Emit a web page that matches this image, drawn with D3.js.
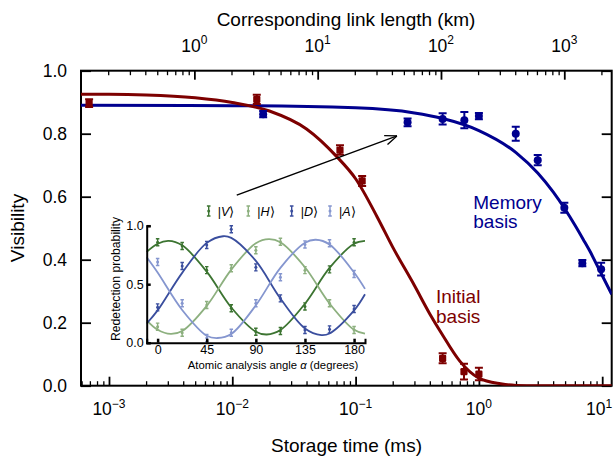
<!DOCTYPE html>
<html>
<head>
<meta charset="utf-8">
<script src="https://cdn.jsdelivr.net/npm/d3@7"></script>
<style>
  body { margin: 0; background: #fff; }
  svg { display: block; font-family: Helvetica, "Liberation Sans", Arial, sans-serif; }
</style>
</head>
<body>
<div id="chart"></div>
<script>
// storage time (ms) vs visibility
const initialTimes = [0.00069, 0.0158, 0.0747, 0.113, 0.508, 0.757, 1.0];
const initialVis   = [0.897, 0.909, 0.748, 0.650, 0.087, 0.045, 0.037];
const initialErr   = [0.012, 0.015, 0.015, 0.016, 0.016, 0.025, 0.02];

const memoryTimes = [0.0178, 0.264, 0.508, 0.762, 1.0, 1.99, 3.0, 4.93, 6.9, 9.8];
const memoryVis   = [0.862, 0.836, 0.847, 0.843, 0.856, 0.80, 0.716, 0.565, 0.389, 0.370];
const memoryErr   = [0.01, 0.012, 0.018, 0.026, 0.01, 0.022, 0.016, 0.016, 0.01, 0.02];

// fit curves
const initialFitT = [0.00059, 0.001, 0.002, 0.005, 0.01, 0.02, 0.04, 0.07, 0.1, 0.15, 0.2, 0.3, 0.4, 0.5, 0.7, 1.0, 1.5, 2, 3, 12];
const initialFitV = [0.925, 0.925, 0.923, 0.914, 0.899, 0.872, 0.815, 0.728, 0.657, 0.535, 0.44, 0.318, 0.228, 0.165, 0.078, 0.024, 0.006, 0.001, 0, 0];
const memoryFitT = [0.00059, 0.01, 0.1, 0.3, 0.5, 1, 2, 3, 4, 5, 6, 7, 8, 9, 10, 11.94];
const memoryFitV = [0.89, 0.889, 0.882, 0.866, 0.849, 0.81, 0.74, 0.675, 0.615, 0.56, 0.51, 0.465, 0.425, 0.385, 0.35, 0.29];

const timeMajor = [1e-3, 1e-2, 1e-1, 1, 10];
const kmMajor = [1, 10, 100, 1000];
const visTicks = [0, 0.2, 0.4, 0.6, 0.8, 1.0];
const kmPerMs = 203; // link length per ms of storage

// inset: redetection probability vs analysis angle
const angles = [0, 22.5, 45, 67.5, 90, 112.5, 135, 157.5, 180];
const probV = [0.858, 0.826, 0.62, 0.294, 0.094, 0.10, 0.31, 0.627, 0.858];
const probH = [0.137, 0.085, 0.322, 0.636, 0.79, 0.863, 0.62, 0.337, 0.108];
const probD = [0.302, 0.656, 0.835, 0.97, 0.644, 0.379, 0.108, 0.114, 0.288];
const probA = [0.69, 0.337, 0.04, 0.085, 0.337, 0.559, 0.84, 0.85, 0.587];
const probErr = 0.03;

const fitVAng = [-10, 0, 10, 22.5, 45, 67.5, 90, 100, 112.5, 135, 157.5, 180, 190];
const fitV    = [0.776, 0.846, 0.87, 0.832, 0.607, 0.301, 0.094, 0.07, 0.108, 0.333, 0.639, 0.846, 0.87];
const fitHAng = [-10, 0, 12, 22.5, 45, 67.5, 90, 102, 112.5, 135, 157.5, 180, 190];
const fitH    = [0.19, 0.11, 0.075, 0.10, 0.315, 0.625, 0.85, 0.885, 0.858, 0.645, 0.335, 0.11, 0.077];
const fitDAng = [-10, 0, 22.5, 45, 60, 67.5, 90, 112.5, 135, 150, 157.5, 180, 190];
const fitD    = [0.164, 0.276, 0.597, 0.853, 0.91, 0.896, 0.699, 0.378, 0.122, 0.065, 0.079, 0.276, 0.414];
const fitAAng = [-10, 0, 22.5, 45, 55, 67.5, 90, 112.5, 135, 145, 157.5, 180, 190];
const fitA    = [0.73, 0.60, 0.28, 0.06, 0.04, 0.075, 0.32, 0.64, 0.855, 0.88, 0.84, 0.60, 0.46];

const red = '#7d0000';
const blue = '#00008f';

const width = 613, height = 462;
const svg = d3.select('#chart').append('svg')
  .attr('width', width).attr('height', height)
  .attr('viewBox', [0, 0, width, height]);

const x = d3.scaleLog().domain([5.93e-4, 11.94]).range([81, 611.7]);
const y = d3.scaleLinear().domain([0, 1]).range([385.7, 70.7]);
const xKm = d3.scaleLog().domain(x.domain().map(d => d * kmPerMs)).range(x.range());

const isPow10 = d => Math.abs(Math.log10(d) - Math.round(Math.log10(d))) < 1e-6;
const timeMinor = x.ticks().filter(d => !isPow10(d));
const kmMinor = xKm.ticks().filter(d => !isPow10(d));

svg.append('defs').append('clipPath').attr('id', 'plot')
  .append('rect').attr('x', 81).attr('y', 70.7).attr('width', 530.7).attr('height', 315);

// ticks (all inward)
function ticks(g, axis, sw) {
  g.call(axis);
  g.select('.domain').remove();
  g.selectAll('.tick line').attr('stroke', '#000').attr('stroke-width', sw);
  g.selectAll('.tick text').remove();
}
svg.append('g').attr('transform', `translate(0,${y(0)})`)
  .call(g => ticks(g, d3.axisBottom(x).tickValues(timeMinor).tickSize(-4.5), 1.3));
svg.append('g').attr('transform', `translate(0,${y(0)})`)
  .call(g => ticks(g, d3.axisBottom(x).tickValues(timeMajor).tickSize(-9), 1.8));
svg.append('g').attr('transform', `translate(0,${y(1)})`)
  .call(g => ticks(g, d3.axisTop(xKm).tickValues(kmMinor).tickSize(-4.5), 1.3));
svg.append('g').attr('transform', `translate(0,${y(1)})`)
  .call(g => ticks(g, d3.axisTop(xKm).tickValues(kmMajor).tickSize(-9), 1.8));
svg.append('g').attr('transform', `translate(${x.range()[0]},0)`)
  .call(g => ticks(g, d3.axisLeft(y).tickValues(visTicks).tickSize(-10), 1.8));
svg.append('g').attr('transform', `translate(${x.range()[1]},0)`)
  .call(g => ticks(g, d3.axisRight(y).tickValues(visTicks).tickSize(-10), 1.8));

// frame
svg.append('rect')
  .attr('x', x.range()[0]).attr('y', y(1))
  .attr('width', x.range()[1] - x.range()[0]).attr('height', y(0) - y(1))
  .attr('fill', 'none').attr('stroke', '#000').attr('stroke-width', 2);

// tick labels
svg.append('g').selectAll('text').data(visTicks).join('text')
  .attr('x', x.range()[0] - 14).attr('y', d => y(d)).attr('dy', '0.36em')
  .attr('text-anchor', 'end').attr('font-size', 17.5)
  .text(d => d.toFixed(1));

function powLabels(data, scale, baseY) {
  const t = svg.append('g').selectAll('text').data(data).join('text')
    .attr('x', d => Math.min(scale(d), width - 14)).attr('y', baseY)
    .attr('text-anchor', 'middle').attr('font-size', 17.5);
  t.append('tspan').text('10');
  t.append('tspan').attr('dy', -7.5).attr('font-size', 12)
    .text(d => { const e = Math.round(Math.log10(d)); return e < 0 ? '\u2212' + (-e) : e; });
}
powLabels(timeMajor, x, 415);
powLabels(kmMajor, xKm, 51.5);

// axis titles
svg.append('text').attr('x', 346.5).attr('y', 451.5).attr('text-anchor', 'middle')
  .attr('font-size', 19).text('Storage time (ms)');
svg.append('text').attr('x', 346).attr('y', 25.5).attr('text-anchor', 'middle')
  .attr('font-size', 19).text('Corresponding link length (km)');
svg.append('text').attr('transform', 'translate(23.5,228) rotate(-90)')
  .attr('text-anchor', 'middle').attr('font-size', 19).text('Visibility');

// fit curves
const plot = svg.append('g').attr('clip-path', 'url(#plot)');
const fitLine = d3.line().x(d => x(d[0])).y(d => y(d[1])).curve(d3.curveMonotoneX);
plot.append('path').datum(d3.zip(memoryFitT, memoryFitV))
  .attr('d', fitLine).attr('fill', 'none').attr('stroke', blue).attr('stroke-width', 3);
plot.append('path').datum(d3.zip(initialFitT, initialFitV))
  .attr('d', fitLine).attr('fill', 'none').attr('stroke', red).attr('stroke-width', 3);

// error bars + markers
function errorBars(g, xs, ys, es, xs_, ys_, color, capW, sw) {
  const pts = d3.zip(xs, ys, es);
  g.append('g').attr('stroke', color).attr('stroke-width', sw)
    .selectAll('path').data(pts).join('path')
    .attr('fill', 'none')
    .attr('d', d => {
      const px = xs_(d[0]), y1 = ys_(d[1] + d[2]), y2 = ys_(d[1] - d[2]);
      return `M${px},${y1}V${y2}M${px - capW / 2},${y1}H${px + capW / 2}M${px - capW / 2},${y2}H${px + capW / 2}`;
    });
  return pts;
}
const memPts = errorBars(svg, memoryTimes, memoryVis, memoryErr, x, y, blue, 8, 2);
svg.append('g').selectAll('circle').data(memPts).join('circle')
  .attr('cx', d => x(d[0])).attr('cy', d => y(d[1])).attr('r', 4).attr('fill', blue);
const iniPts = errorBars(svg, initialTimes, initialVis, initialErr, x, y, red, 8, 2);
svg.append('g').selectAll('rect').data(iniPts).join('rect')
  .attr('x', d => x(d[0]) - 3.6).attr('y', d => y(d[1]) - 3.6)
  .attr('width', 7.2).attr('height', 7.2).attr('rx', 1.2).attr('fill', red);

// labels on the curves
const memText = svg.append('text').attr('x', x(0.9)).attr('y', y(0.561))
  .attr('fill', blue).attr('font-size', 19);
memText.append('tspan').text('Memory');
memText.append('tspan').attr('x', x(0.9)).attr('dy', 19).text('basis');
const iniText = svg.append('text').attr('x', x(0.449)).attr('y', y(0.2616))
  .attr('fill', red).attr('font-size', 19);
iniText.append('tspan').text('Initial');
iniText.append('tspan').attr('x', x(0.449)).attr('dy', 20).text('basis');

// arrow from inset to memory data
svg.append('defs').append('marker').attr('id', 'head')
  .attr('viewBox', '0 0 10 10').attr('refX', 10).attr('refY', 5)
  .attr('markerWidth', 12).attr('markerHeight', 12).attr('markerUnits', 'userSpaceOnUse')
  .attr('orient', 'auto')
  .append('path').attr('d', 'M0,1L10,5L0,9').attr('fill', 'none')
  .attr('stroke', '#000').attr('stroke-width', 1.1);
svg.append('line')
  .attr('x1', x(0.01087)).attr('y1', y(0.605))
  .attr('x2', x(0.217)).attr('y2', y(0.793))
  .attr('stroke', '#000').attr('stroke-width', 1.3).attr('marker-end', 'url(#head)');

// ---------------- inset ----------------
const ix = d3.scaleLinear().domain([-10, 190]).range([146.7, 365]);
const iy = d3.scaleLinear().domain([0, 1]).range([342.7, 225.7]);
const inset = svg.append('g').attr('class', 'inset');

const states = [
  {name: 'V', color: '#3c7431', probs: probV, fa: fitVAng, fv: fitV},
  {name: 'H', color: '#8db07f', probs: probH, fa: fitHAng, fv: fitH},
  {name: 'D', color: '#3a4e9e', probs: probD, fa: fitDAng, fv: fitD},
  {name: 'A', color: '#8596cf', probs: probA, fa: fitAAng, fv: fitA}
];

const insetLine = d3.line().x(d => ix(d[0])).y(d => iy(d[1])).curve(d3.curveCatmullRom);
states.forEach(s => {
  inset.append('path').datum(d3.zip(s.fa, s.fv)).attr('d', insetLine)
    .attr('fill', 'none').attr('stroke', s.color).attr('stroke-width', 1.8);
});
states.forEach(s => {
  const pts = errorBars(inset, angles, s.probs, angles.map(() => probErr), ix, iy, s.color, 3.5, 1.4);
  inset.append('g').selectAll('circle').data(pts).join('circle')
    .attr('cx', d => ix(d[0])).attr('cy', d => iy(d[1])).attr('r', 1.5).attr('fill', s.color);
});

// inset axes
inset.append('g').attr('transform', `translate(0,${iy(0)})`)
  .call(d3.axisBottom(ix).tickValues([0, 45, 90, 135, 180]).tickSize(-4).tickPadding(2.5))
  .call(g => {
    g.select('.domain').attr('stroke', '#000').attr('stroke-width', 2);
    g.selectAll('.tick line').attr('stroke-width', 2.5);
    g.selectAll('.tick text').attr('font-size', 12.5).attr('font-family', null);
  });
inset.append('g').attr('transform', `translate(${ix(-10)},0)`)
  .call(d3.axisLeft(iy).tickValues([0, 0.5, 1]).tickSize(-4).tickPadding(3).tickFormat(d3.format('.1f')))
  .call(g => {
    g.select('.domain').attr('stroke', '#000').attr('stroke-width', 2);
    g.selectAll('.tick line').attr('stroke-width', 2.5);
    g.selectAll('.tick text').attr('font-size', 12.5).attr('font-family', null);
  });
inset.append('text').attr('x', 273).attr('y', 368.5).attr('text-anchor', 'middle')
  .attr('font-size', 11.3)
  .call(t => {
    t.append('tspan').text('Atomic analysis angle ');
    t.append('tspan').attr('font-style', 'italic').text('\u03b1');
    t.append('tspan').text(' (degrees)');
  });
inset.append('text').attr('transform', 'translate(119.5,279) rotate(-90)')
  .attr('text-anchor', 'middle').attr('font-size', 12.2).text('Redetection probability');

// inset legend
const legendX = [208.7, 248.3, 291.7, 330];
const legend = inset.append('g').selectAll('g').data(states).join('g')
  .attr('transform', (d, i) => `translate(${legendX[i]},211)`);
legend.append('path')
  .attr('d', 'M0,-5V5M-1.8,-5H1.8M-1.8,5H1.8')
  .attr('stroke', d => d.color).attr('stroke-width', 1.4).attr('fill', 'none');
legend.append('circle').attr('r', 1.5).attr('fill', d => d.color);
const lt = legend.append('text').attr('x', 9).attr('y', 4.5).attr('font-size', 12.5);
lt.append('tspan').text('|');
lt.append('tspan').attr('font-style', 'italic').text(d => d.name);
lt.append('tspan').text('\u27e9');
</script>
</body>
</html>
